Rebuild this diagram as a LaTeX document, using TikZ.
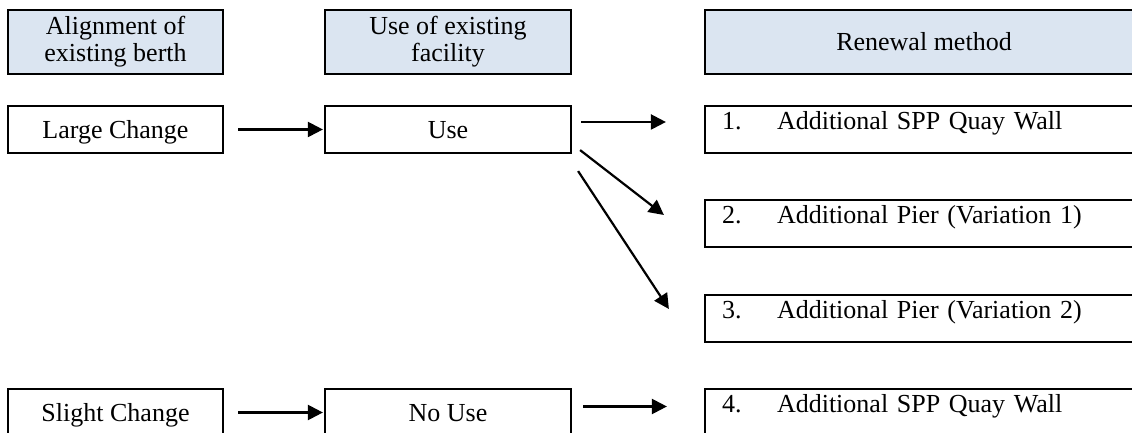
\documentclass[tikz,border=0pt]{standalone}
\usepackage{fontspec}
\setmainfont{Liberation Serif}
\usepackage{tikz}
\usetikzlibrary{arrows.meta,positioning}
\definecolor{headblue}{HTML}{DBE5F1}
\tikzset{%
	head/.style    = {draw, rectangle, line width=2.2pt, fill=headblue, minimum width=215pt, minimum height=64pt, align=center, font=\fontsize{26}{27}\selectfont}, % column titles
	block/.style   = {draw, rectangle, line width=2.2pt, minimum width=215pt, minimum height=47pt, text height=18pt, text depth=0pt, font=\fontsize{26}{27}\selectfont},
	method/.style  = {draw, rectangle, line width=2.2pt, text width=404pt, align=left, inner xsep=17pt, inner ysep=0pt, text height=24pt, text depth=23pt, font=\fontsize{26}{27}\selectfont}, % renewal options
	arrow/.style   = {line width=2.2pt, -{Triangle[length=15pt,width=15pt]}},
}
% number and text of one renewal option
\newcommand{\methodline}[2]{\makebox[55pt][l]{#1}#2}

\begin{document}
\begin{tikzpicture}[x=1pt,y=1pt,node distance=332.5pt]
		\useasboundingbox (0,0) rectangle (1132,433);
		\clip (0,0) rectangle (1132,433);
		% titles
		\node [head] (ha) at (115.5,391) {Alignment of\\existing berth};
		\node [head,minimum width=246pt] (hb) [right of=ha] {Use of existing\\facility};
		\node [head,minimum width=438pt] (hc) [right of=hb,node distance=476pt] {Renewal method};
		% rows
		\node [block] (large) [below of=ha,node distance=87.5pt] {Large Change};
		\node [block,minimum width=246pt] (use) [right of=large] {Use};
		\node [method] (m1) [right of=use,node distance=476pt] {\methodline{1.}{Additional SPP Quay Wall}};
		\node [method] (m2) [below of=m1,node distance=94pt] {\methodline{2.}{Additional Pier (Variation 1)}};
		\node [method] (m3) [below of=m2,node distance=95pt] {\methodline{3.}{Additional Pier (Variation 2)}};
		\node [method] (m4) [below of=m3,node distance=94pt] {\methodline{4.}{Additional SPP Quay Wall}};
		\node [block] (slight) [below of=large,node distance=283pt] {Slight Change};
		\node [block,minimum width=246pt] (nouse) [right of=slight] {No Use};
		
		\draw[arrow,shorten <=14pt,shorten >=1pt] (large) -- (use);
		\draw[arrow,shorten <=14pt,shorten >=1pt] (slight) -- (nouse);
		\draw[arrow] ([shift={(9pt,7.5pt)}]use.east) -- ([shift={(-38pt,7.5pt)}]m1.west);
		\draw[arrow] ([shift={(8pt,4pt)}]use.south east) -- ([shift={(-40pt,8.5pt)}]m2.west);
		\draw[arrow] ([shift={(6pt,-17pt)}]use.south east) -- ([shift={(-35pt,9.5pt)}]m3.west);
		\draw[arrow] ([shift={(11pt,6pt)}]nouse.east) -- ([shift={(-37pt,6pt)}]m4.west);
	\end{tikzpicture}
\end{document}
